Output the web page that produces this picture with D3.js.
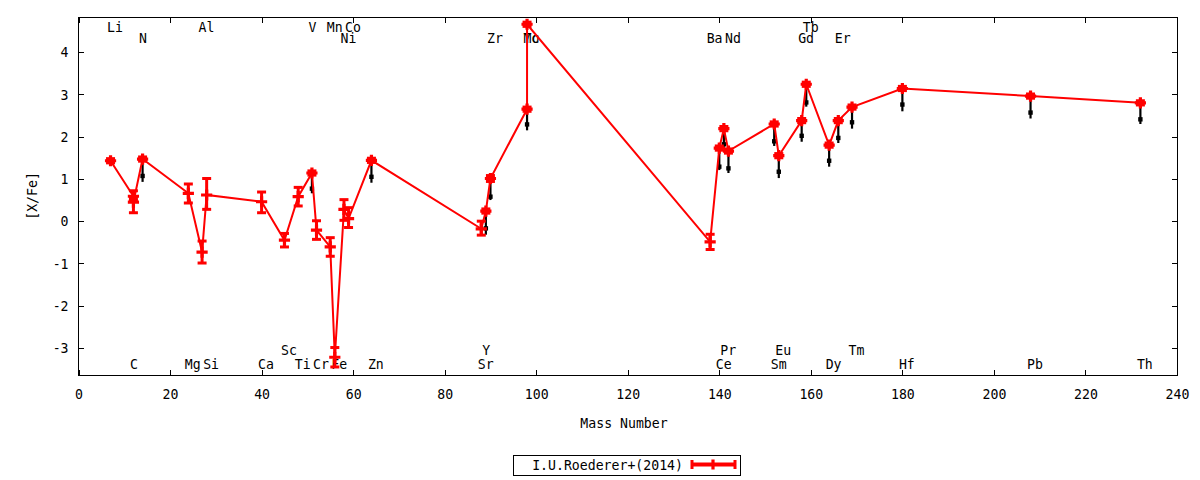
<!DOCTYPE html>
<html>
<head>
<meta charset="utf-8">
<script src="https://cdn.jsdelivr.net/npm/d3@7.9.0/dist/d3.min.js"></script>
<style>
  html, body { margin: 0; padding: 0; background: #fff; }
  svg { display: block; font-family: "DejaVu Sans Mono", monospace; }
</style>
</head>
<body>
<svg id="chart" width="1200" height="480"></svg>
<script>
// red series: I.U.Roederer+(2014), mass number / [X/Fe] / error low / error high
const redMass = [7, 12, 12, 14, 24, 27, 28, 40, 45, 48, 51, 52, 55, 56, 58, 59, 64,
  88, 89, 90, 98, 98, 138, 140, 141, 142, 152, 153, 158, 159, 164, 166, 169, 180, 208, 232];
const redY = [1.43, 0.59, 0.45, 1.47, 0.66, -0.73, 0.62, 0.46, -0.45, 0.58, 1.14, -0.21, -0.61, -3.22, 0.28, 0.06, 1.44,
  -0.18, 0.24, 1.01, 2.65, 4.66, -0.49, 1.73, 2.19, 1.66, 2.30, 1.55, 2.38, 3.24, 1.80, 2.38, 2.70, 3.14, 2.96, 2.80];
const redLo = [1.38, 0.49, 0.20, 1.42, 0.43, -0.99, 0.28, 0.20, -0.61, 0.36, 1.09, -0.43, -0.83, -3.45, 0.02, -0.15, 1.39,
  -0.33, 0.19, 0.94, 2.60, 4.61, -0.67, 1.68, 2.14, 1.61, 2.25, 1.50, 2.33, 3.19, 1.75, 2.33, 2.65, 3.09, 2.91, 2.75];
const redHi = [1.48, 0.72, 0.55, 1.52, 0.88, -0.47, 1.01, 0.69, -0.29, 0.80, 1.19, 0.01, -0.39, -2.99, 0.51, 0.32, 1.49,
  0.00, 0.29, 1.08, 2.70, 4.71, -0.31, 1.78, 2.24, 1.71, 2.35, 1.60, 2.43, 3.29, 1.85, 2.43, 2.75, 3.19, 3.01, 2.85];

// black series (no key entry)
const blackMass = [14, 51, 64, 89, 90, 98, 140, 141, 142, 152, 153, 158, 159, 164, 166, 169, 180, 208, 232];
const blackY = [1.07, 0.77, 1.05, -0.17, 0.58, 2.29, 1.29, 1.82, 1.25, 1.89, 1.17, 2.02, 2.81, 1.43, 1.97, 2.34, 2.76, 2.57, 2.41];
const blackLo = [0.93, 0.66, 0.91, -0.32, 0.50, 2.15, 1.21, 1.73, 1.14, 1.78, 1.02, 1.88, 2.71, 1.29, 1.85, 2.19, 2.60, 2.43, 2.30];
const blackHi = [1.40, 1.10, 1.40, 0.20, 0.95, 2.60, 1.70, 2.15, 1.62, 2.25, 1.50, 2.33, 3.19, 1.75, 2.33, 2.65, 3.09, 2.91, 2.75];

// element labels
const labelNames = ['Li', 'Al', 'V', 'Mn', 'Co', 'Tb',
  'N', 'Ni', 'Zr', 'Mo', 'Tc', 'Ba', 'Nd', 'Gd', 'Er',
  'Sc', 'Y', 'Pr', 'Eu', 'Tm',
  'C', 'Mg', 'Si', 'Ca', 'Ti', 'Cr', 'Fe', 'Zn', 'Sr', 'Ce', 'Sm', 'Dy', 'Hf', 'Pb', 'Th'];
const labelMass = [7, 27, 51, 55, 59, 159,
  14, 58, 90, 98, 98, 138, 142, 158, 166,
  45, 89, 141, 153, 169,
  12, 24, 28, 40, 48, 52, 56, 64, 88, 140, 152, 164, 180, 208, 232];
const labelY = [4.6, 4.6, 4.6, 4.6, 4.6, 4.6,
  4.35, 4.35, 4.35, 4.35, 4.35, 4.35, 4.35, 4.35, 4.35,
  -3.04, -3.04, -3.04, -3.04, -3.04,
  -3.36, -3.36, -3.36, -3.36, -3.36, -3.36, -3.36, -3.36, -3.36, -3.36, -3.36, -3.36, -3.36, -3.36, -3.36];

const xTicks = d3.range(0, 241, 20);
const yTicks = [-3, -2, -1, 0, 1, 2, 3, 4];
const keyTitle = 'I.U.Roederer+(2014)';

const plotLeft = 78.5, plotRight = 1177, plotTop = 17.5, plotBottom = 375;
const RED = '#ff0000';
const svg = d3.select('#chart');

const x = d3.scaleLinear().domain([0, 240]).range([plotLeft, plotRight]);
const y = d3.scaleLinear().domain([-3.64, 4.82]).range([plotBottom, plotTop]);

// gnuplot-ish text: monospace, a little taller than wide
function txt(g, px, py, str, anchor, rot) {
  return g.append('text')
    .attr('transform', `translate(${px},${py})` + (rot ? ` rotate(${rot})` : '') + ' scale(1,1.12)')
    .attr('text-anchor', anchor || 'start')
    .attr('font-size', 13.2)
    .attr('fill', '#000')
    .text(str);
}

// axes, ticks inward on all four sides
function styleAxis(g) {
  g.select('.domain').remove();
  g.selectAll('.tick line').attr('stroke', '#000').attr('shape-rendering', 'crispEdges');
  g.selectAll('.tick text')
    .attr('font-family', '"DejaVu Sans Mono", monospace')
    .attr('font-size', 13.2)
    .attr('fill', '#000');
}

svg.append('g')
  .attr('transform', `translate(0,${plotBottom})`)
  .call(d3.axisBottom(x).tickValues(xTicks).tickSize(-5).tickSizeOuter(0).tickFormat(d => String(d)))
  .call(styleAxis)
  .call(g => g.selectAll('.tick text').attr('dy', null).attr('y', 21.4).attr('transform', 'scale(1,1.12)'));

svg.append('g')
  .attr('transform', `translate(0,${plotTop})`)
  .call(d3.axisTop(x).tickValues(xTicks).tickSize(-5).tickSizeOuter(0).tickFormat(''))
  .call(styleAxis);

svg.append('g')
  .attr('transform', `translate(${plotLeft},0)`)
  .call(d3.axisLeft(y).tickValues(yTicks).tickSize(-5).tickSizeOuter(0).tickPadding(10).tickFormat(d => String(d)))
  .call(styleAxis)
  .call(g => g.selectAll('.tick text').attr('dy', null).attr('y', 4.8 / 1.12).attr('transform', 'scale(1,1.12)'));

svg.append('g')
  .attr('transform', `translate(${plotRight},0)`)
  .call(d3.axisRight(y).tickValues(yTicks).tickSize(-5).tickSizeOuter(0).tickFormat(''))
  .call(styleAxis);

svg.append('rect')
  .attr('x', plotLeft).attr('y', plotTop)
  .attr('width', plotRight - plotLeft).attr('height', plotBottom - plotTop)
  .attr('fill', 'none').attr('stroke', '#000').attr('stroke-width', 1)
  .attr('shape-rendering', 'crispEdges');

// element labels (overlaps like Mo/Tc are as in the original)
const labels = svg.append('g');
labelNames.forEach((n, i) => {
  txt(labels, x(labelMass[i]) - 3.5, y(labelY[i]) + 5.5, n, 'start');
});

// black series
const black = blackMass.map((m, i) => ({ m, v: blackY[i], lo: blackLo[i], hi: blackHi[i] }));
const gb = svg.append('g');
gb.selectAll('line').data(black).enter().append('line')
  .attr('x1', d => x(d.m)).attr('x2', d => x(d.m))
  .attr('y1', d => y(d.lo)).attr('y2', d => y(d.hi))
  .attr('stroke', '#000').attr('stroke-width', 2.2);
gb.selectAll('rect').data(black).enter().append('rect')
  .attr('x', d => x(d.m) - 2.2).attr('y', d => y(d.v) - 2.2)
  .attr('width', 4.4).attr('height', 4.4)
  .attr('fill', '#000');

// red series: lines + errorbars + points
const red = redMass.map((m, i) => ({ m, v: redY[i], lo: redLo[i], hi: redHi[i] }));
const gr = svg.append('g');

gr.append('path')
  .datum(red)
  .attr('d', d3.line().x(d => x(d.m)).y(d => y(d.v)))
  .attr('fill', 'none').attr('stroke', RED).attr('stroke-width', 2);

gr.selectAll('.err').data(red).enter().append('line')
  .attr('class', 'err')
  .attr('x1', d => x(d.m)).attr('x2', d => x(d.m))
  .attr('y1', d => y(d.lo)).attr('y2', d => y(d.hi))
  .attr('stroke', RED).attr('stroke-width', 3);

['lo', 'hi'].forEach(k => {
  gr.selectAll('.cap-' + k).data(red).enter().append('line')
    .attr('class', 'cap-' + k)
    .attr('x1', d => x(d.m) - 4.5).attr('x2', d => x(d.m) + 4.5)
    .attr('y1', d => y(d[k])).attr('y2', d => y(d[k]))
    .attr('stroke', RED).attr('stroke-width', 3);
});

gr.selectAll('.pt').data(red).enter().append('path')
  .attr('class', 'pt')
  .attr('d', d => {
    const cx = x(d.m), cy = y(d.v), r = 5.6;
    return `M${cx - r},${cy}H${cx + r}M${cx},${cy - r}V${cy + r}`;
  })
  .attr('stroke', RED).attr('stroke-width', 3.2).attr('fill', 'none');

// axis titles
txt(svg, 624, 428, 'Mass Number', 'middle');
txt(svg, 37, 196, '[X/Fe]', 'middle', -90);

// key
const key = svg.append('g');
key.append('rect')
  .attr('x', 513.5).attr('y', 455.5).attr('width', 227).attr('height', 20)
  .attr('fill', 'none').attr('stroke', '#000').attr('stroke-width', 1)
  .attr('shape-rendering', 'crispEdges');
txt(key, 683, 469.5, keyTitle, 'end');
key.append('line')
  .attr('x1', 692).attr('x2', 735).attr('y1', 464.5).attr('y2', 464.5)
  .attr('stroke', RED).attr('stroke-width', 4);
[692, 735].forEach(px => {
  key.append('line')
    .attr('x1', px).attr('x2', px).attr('y1', 460).attr('y2', 469)
    .attr('stroke', RED).attr('stroke-width', 3);
});
key.append('path')
  .attr('d', 'M708,464.5H718M713,459.5V469.5')
  .attr('stroke', RED).attr('stroke-width', 3.2).attr('fill', 'none');
</script>
</body>
</html>
